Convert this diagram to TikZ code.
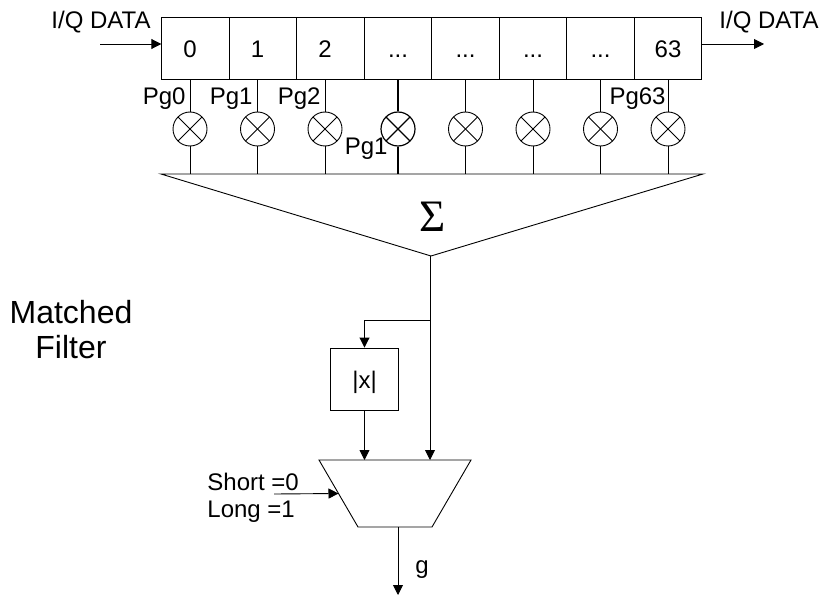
\documentclass[tikz,border=0pt]{standalone}
\usepackage{fontspec}
\setmainfont{Liberation Sans}
\newfontfamily\sumfont{Liberation Serif}
\usetikzlibrary{arrows.meta,calc}

\tikzset{
  cell/.style={draw, minimum width=67.5pt, minimum height=62pt, inner sep=0pt,
    text height=19pt, text depth=0pt},
  mixer/.style={circle, draw, minimum size=34pt, inner sep=0pt,
    path picture={
      \draw (path picture bounding box.north west) -- (path picture bounding box.south east);
      \draw (path picture bounding box.north east) -- (path picture bounding box.south west);
    }},
  lbl/.style={inner sep=0pt}
}

\begin{document}
\begin{tikzpicture}[x=1pt, y=-1pt, node distance=67.5pt, line width=0.9pt,
      >={Triangle[length=10pt,width=10pt]},
      every node/.append style={font=\fontsize{24}{27}\selectfont}]
      \useasboundingbox (0,0) rectangle (824,596);

      % Define shift register cells
      \node[cell] at (195.5,48) (c0) {\hspace*{-11pt}0};
      \node[cell, right of=c0] (c1) {\hspace*{-11pt}1};
      \node[cell, right of=c1] (c2) {\hspace*{-11pt}2};
      \node[cell, right of=c2] (c3) {...};
      \node[cell, right of=c3] (c4) {...};
      \node[cell, right of=c4] (c5) {...};
      \node[cell, right of=c5] (c6) {...};
      \node[cell, right of=c6] (c7) {63};

      % Define multipliers
      \node[mixer] at (190,129) (m0) {};
      \node[mixer, right of=m0] (m1) {};
      \node[mixer, right of=m1] (m2) {};
      \node[mixer, line width=1.2pt] at (398,129) (m3) {};
      \node[mixer, right of=m3] (m4) {};
      \node[mixer, right of=m4] (m5) {};
      \node[mixer, right of=m5] (m6) {};
      \node[mixer, right of=m6] (m7) {};

      % Coefficient labels
      \node[lbl, anchor=base east] at (186,105) (p0) {Pg0};
      \node[lbl, anchor=base east] at (253,105) (p1) {Pg1};
      \node[lbl, anchor=base east] at (321,105) (p2) {Pg2};
      \node[lbl, anchor=base east] at (388,155) (p3) {Pg1};
      \node[lbl, anchor=base east] at (666,105) (p7) {Pg63};

      % Summing triangle
      \coordinate (sl) at (161,174);
      \coordinate (sr) at (703,174);
      \coordinate (st) at (431,256);
      \draw (sl) -- (sr) -- (st) -- cycle;
      \node[lbl, font=\sumfont\fontsize{45}{50}\selectfont] at (433,217) (sum) {Σ};

      % Input and output of the register
      \coordinate (din) at (100,44);
      \coordinate (dout) at (764,44);
      \node[lbl, anchor=base east] at (151,29) (tin) {I/Q DATA};
      \node[lbl, anchor=base west] at (719,29) (tout) {I/Q DATA};
      \draw[->] (din) -- (din -| c0.west);
      \draw[->] (dout -| c7.east) -- (dout);

      % Connect cells to multipliers and multipliers to the sum
      \draw (c0.south -| m0) -- (m0);
      \draw (c1.south -| m1) -- (m1);
      \draw (c2.south -| m2) -- (m2);
      \draw[line width=1.2pt] (c3.south -| m3) -- (m3);
      \draw (c4.south -| m4) -- (m4);
      \draw (c5.south -| m5) -- (m5);
      \draw (c6.south -| m6) -- (m6);
      \draw (c7.south -| m7) -- (m7);
      \draw (m0) -- (m0 |- sl);
      \draw (m1) -- (m1 |- sl);
      \draw (m2) -- (m2 |- sl);
      \draw[line width=1.2pt] (m3) -- (m3 |- sl);
      \draw (m4) -- (m4 |- sl);
      \draw (m5) -- (m5 |- sl);
      \draw (m6) -- (m6 |- sl);
      \draw (m7) -- (m7 |- sl);

      % Abs block and selector
      \node[cell, minimum width=68.5pt] at (364.5,379) (absx) {|x|};
      \coordinate (mtl) at (319,460);
      \coordinate (mtr) at (471,460);
      \coordinate (mbr) at (432,527);
      \coordinate (mbl) at (358,527);
      \draw (mtl) -- (mtr) -- (mbr) -- (mbl) -- cycle;

      \coordinate (tap) at (430,320);
      \coordinate (gout) at (398,595);
      \coordinate (sel) at (274,494);
      \draw[->] (tap |- st) -- (tap |- mtl);
      \draw[->] (tap) -| (absx.north);
      \draw[->] (absx.south) -- (absx.south |- mtl);
      \draw[->] (gout |- mbl) -- (gout);
      \draw[->] (sel) -- ($(mtl)!.5!(mbl)$);

      % Remaining labels
      \node[lbl, anchor=base west] at (207,490) (tshort) {Short =0};
      \node[lbl, anchor=base west] at (207,517) (tlong) {Long =1};
      \node[lbl, anchor=base west] at (415,573) (tg) {g};
      \node[lbl, align=center, font=\fontsize{32}{35}\selectfont] at (71,330) (tmf) {Matched\\Filter};
    \end{tikzpicture}
\end{document}
